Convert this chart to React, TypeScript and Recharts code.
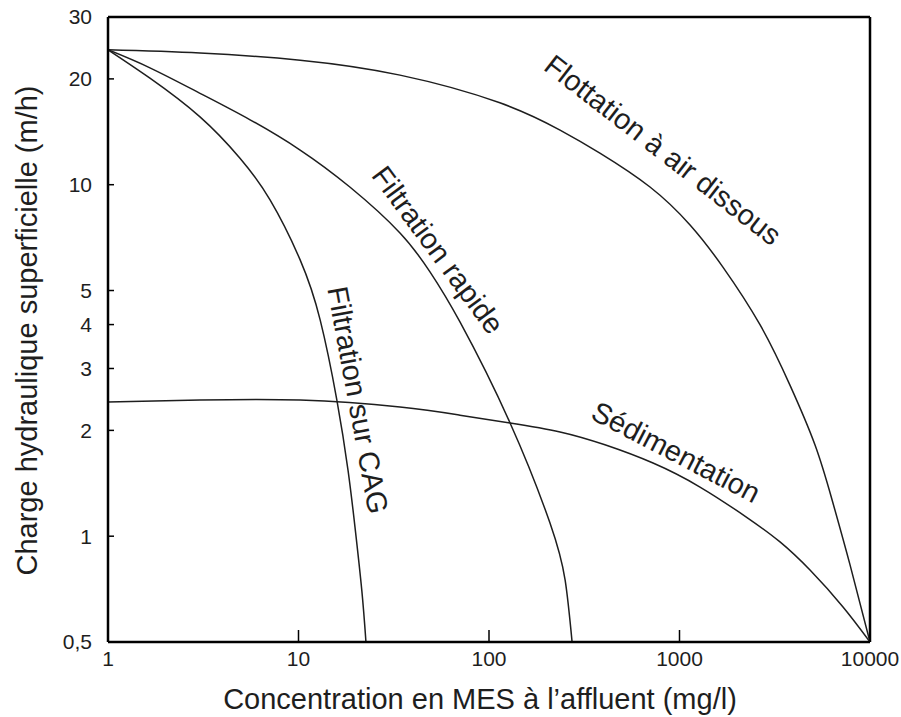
import React from 'react';
import { LineChart, Line, XAxis, YAxis, ReferenceLine, ReferenceDot } from 'recharts';

// Concentration en MES (mg/l) -> Charge hydraulique (m/h)
const flottationX = [1, 3.04, 10.2, 34.1, 114, 236, 382, 700, 1136, 1690, 2650, 3800, 5140, 6320, 7850, 10000];
const flottationY = [24.2, 23.7, 22.6, 20.5, 17.1, 14.3, 12.3, 9.85, 7.68, 5.83, 3.99, 2.69, 1.82, 1.27, 0.83, 0.5];

const sedimentationX = [1, 3.04, 10.2, 34.1, 70.4, 129, 236, 406, 726, 1281, 2262, 3370, 4842, 7217, 10000];
const sedimentationY = [2.41, 2.44, 2.44, 2.33, 2.21, 2.1, 1.98, 1.82, 1.615, 1.38, 1.13, 0.963, 0.801, 0.629, 0.5];

const rapideX = [1, 1.66, 3.04, 5.57, 10.2, 18.6, 34.1, 49.0, 70.4, 129, 209, 251, 273];
const rapideY = [24.2, 21.5, 18.2, 15.3, 12.55, 9.85, 7.29, 5.65, 4.07, 2.1, 1.09, 0.75, 0.5];

const cagX = [1, 1.66, 3.04, 4.93, 7.09, 10.2, 13.0, 15.9, 18.2, 19.8, 21.5, 22.6];
const cagY = [24.2, 20.1, 15.6, 11.9, 9.05, 6.11, 4.12, 2.44, 1.54, 1.06, 0.7, 0.5];

const xTicks = [1, 10, 100, 1000, 10000];
const yTicks = [0.5, 1, 2, 3, 4, 5, 10, 20, 30];

const curveLabels = ['Flottation à air dissous', 'Filtration rapide', 'Filtration sur CAG', 'Sédimentation'];
const curveLabelX = [819, 54, 20.5, 959];
const curveLabelY = [12.56, 6.52, 2.44, 1.735];
const curveLabelAngle = [37.8, 53.5, 79.6, 27.5];

const xTitle = 'Concentration en MES à l’affluent (mg/l)';
const yTitle = 'Charge hydraulique superficielle (m/h)';

const zip = (xs: number[], ys: number[]) => xs.map((x, i) => ({ x, y: ys[i] }));

const series = [
  { name: 'flottation', data: zip(flottationX, flottationY) },
  { name: 'sedimentation', data: zip(sedimentationX, sedimentationY) },
  { name: 'rapide', data: zip(rapideX, rapideY) },
  { name: 'cag', data: zip(cagX, cagY) },
];

const FONT = '"Liberation Sans", Arial, Helvetica, sans-serif';
const INK = '#1e1e1e';

const fmt = (v: number) => String(v).replace('.', ',');

export default function App() {
  return (
    <div style={{ width: 901, height: 717, overflow: 'hidden' }}>
      <style>{'body{margin:0}'}</style>
      <LineChart width={901} height={717} margin={{ top: 17, right: 31, bottom: 0, left: 0 }}>
        <XAxis
          dataKey="x"
          type="number"
          scale="log"
          domain={[1, 10000]}
          allowDataOverflow
          ticks={xTicks}
          height={75}
          axisLine={{ stroke: '#000', strokeWidth: 2.5 }}
          tickLine={{ stroke: '#000', strokeWidth: 1.5 }}
          tickSize={-12}
          tickMargin={21}
          tick={{ fill: INK, fontSize: 21, fontFamily: FONT }}
          tickFormatter={fmt}
          label={{
            content: (props: any) => {
              const vb = props.viewBox || {};
              return (
                <text
                  x={vb.x + vb.width / 2 - 9}
                  y={vb.y + 67}
                  textAnchor="middle"
                  fontSize={29}
                  fontFamily={FONT}
                  fill={INK}
                >
                  {xTitle}
                </text>
              );
            },
          }}
        />
        <YAxis
          type="number"
          scale="log"
          domain={[0.5, 30]}
          allowDataOverflow
          ticks={yTicks}
          width={108}
          axisLine={{ stroke: '#000', strokeWidth: 2.5 }}
          tickLine={{ stroke: '#000', strokeWidth: 1.5 }}
          tickSize={-6}
          tickMargin={22}
          tick={{ fill: INK, fontSize: 21, fontFamily: FONT }}
          tickFormatter={fmt}
          label={{
            content: (props: any) => {
              const vb = props.viewBox || {};
              const cx = vb.x + 27;
              const cy = vb.y + vb.height / 2 + 1;
              return (
                <text
                  x={cx}
                  y={cy}
                  transform={`rotate(-90, ${cx}, ${cy})`}
                  textAnchor="middle"
                  dominantBaseline="central"
                  fontSize={29}
                  fontFamily={FONT}
                  fill={INK}
                >
                  {yTitle}
                </text>
              );
            },
          }}
        />
        <ReferenceLine y={30} stroke="#000" strokeWidth={2.5} />
        <ReferenceLine x={10000} stroke="#000" strokeWidth={2.5} />
        {series.map((s) => (
          <Line
            key={s.name}
            data={s.data}
            dataKey="y"
            type="natural"
            stroke={INK}
            strokeWidth={1.5}
            dot={false}
            activeDot={false}
            isAnimationActive={false}
          />
        ))}
        {curveLabels.map((t, i) => (
          <ReferenceDot
            key={t}
            x={curveLabelX[i]}
            y={curveLabelY[i]}
            r={0}
            shape={(p: any) => (
              <text
                x={p.cx}
                y={p.cy}
                transform={`rotate(${curveLabelAngle[i]}, ${p.cx}, ${p.cy})`}
                textAnchor="middle"
                dominantBaseline="central"
                fontSize={29}
                fontFamily={FONT}
                fill={INK}
              >
                {t}
              </text>
            )}
          />
        ))}
      </LineChart>
    </div>
  );
}
